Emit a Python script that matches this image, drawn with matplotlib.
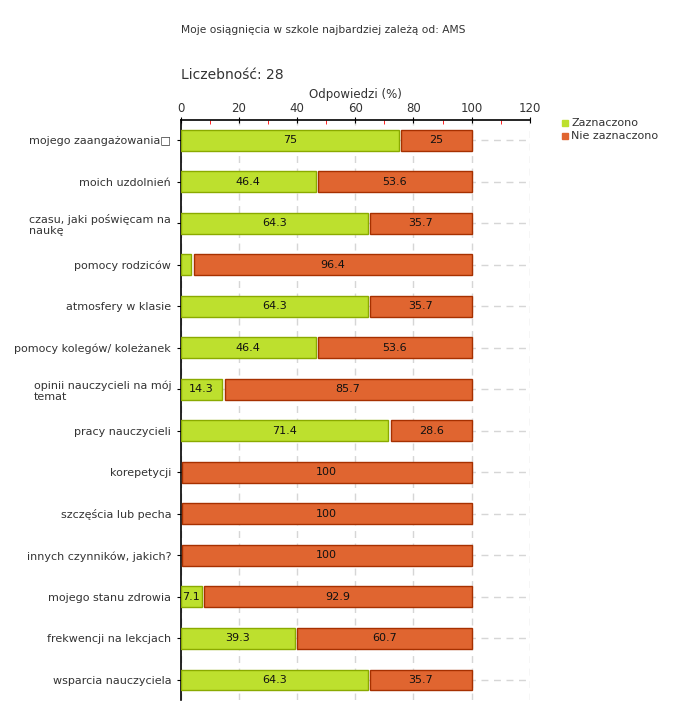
import numpy as np
import matplotlib.pyplot as plt
from matplotlib.ticker import MultipleLocator

categories = [
    "mojego zaangażowania\u25a1",
    "moich uzdolnień",
    "czasu, jaki poświęcam na\nnaukę",
    "pomocy rodziców",
    "atmosfery w klasie",
    "pomocy kolegów/ koleżanek",
    "opinii nauczycieli na mój\ntemat",
    "pracy nauczycieli",
    "korepetycji",
    "szczęścia lub pecha",
    "innych czynników, jakich?",
    "mojego stanu zdrowia",
    "frekwencji na lekcjach",
    "wsparcia nauczyciela",
]
zaznaczono = [75, 46.4, 64.3, 3.6, 64.3, 46.4, 14.3, 71.4, 0, 0, 0, 7.1, 39.3, 64.3]
nie_zaznaczono = [25, 53.6, 35.7, 96.4, 35.7, 53.6, 85.7, 28.6, 100, 100, 100, 92.9, 60.7, 35.7]

green = "#bde02e"
green_edge = "#8aaa00"
orange = "#e06530"
orange_edge = "#a63000"
txt = "#333333"
gap = 0.8

fig = plt.figure(figsize=(6.8, 7.2), dpi=100)
ax = fig.add_axes([0.266, 0.028, 0.513, 0.805])

y = np.arange(len(categories))
g = np.array(zaznaczono)
o = np.array(nie_zaznaczono)

# green segments (skip zero)
mask = g > 0
ax.barh(y[mask], g[mask], height=0.5, color=green, edgecolor=green_edge, lw=1, zorder=3)
o_left = np.where(g > 0, g + gap, 0.3)
o_width = np.where(g > 0, o - gap, o - 0.3)
ax.barh(y, o_width, left=o_left, height=0.5, color=orange, edgecolor=orange_edge, lw=1, zorder=3)

for i in range(len(categories)):
    if g[i] >= 5:
        ax.text(g[i] / 2, y[i], f"{g[i]:g}", ha="center", va="center", fontsize=8, color="#111111", zorder=4)
    ax.text(o_left[i] + o_width[i] / 2, y[i], f"{o[i]:g}", ha="center", va="center", fontsize=8, color="#111111", zorder=4)

ax.set_xlim(0, 120)
ax.set_ylim(len(categories) - 0.52, -0.48)
ax.xaxis.tick_top()
ax.xaxis.set_label_position("top")
ax.xaxis.set_major_locator(MultipleLocator(20))
ax.xaxis.set_minor_locator(MultipleLocator(10))
ax.tick_params(axis="x", which="major", length=5, direction="inout", colors="black", labelcolor=txt, labelsize=8.5, pad=1)
ax.tick_params(axis="x", which="minor", length=3, direction="in", colors="red")
ax.set_xlabel("Odpowiedzi (%)", fontsize=8.5, color=txt, labelpad=3)

ax.set_yticks(y)
ax.set_yticklabels(categories, fontsize=8, color=txt)
for lab in ax.get_yticklabels():
    lab.set_multialignment("left")
ax.tick_params(axis="y", length=3, colors="black", labelcolor=txt, pad=4)

for s in ["right", "bottom"]:
    ax.spines[s].set_visible(False)
ax.spines["top"].set_linewidth(1.2)
ax.spines["left"].set_linewidth(1.2)

ax.grid(True, axis="both", which="major", ls=(0, (5, 4)), color="#d6d6d6", lw=1, zorder=0)
ax.set_axisbelow(True)

fig.text(181 / 680, 1 - 30 / 720, "Moje osiągnięcia w szkole najbardziej zależą od: AMS",
         fontsize=7.7, color=txt, va="center")
fig.text(181 / 680, 1 - 75 / 720, "Liczebność: 28", fontsize=10, color=txt, va="center")

# legend
for k, (lab, col) in enumerate([("Zaznaczono", green), ("Nie zaznaczono", orange)]):
    yy = 1 - (123 + 13 * k) / 720
    fig.add_artist(plt.Rectangle((562 / 680, yy - 3 / 720), 6 / 680, 6 / 720,
                                 transform=fig.transFigure, color=col))
    fig.text(571 / 680, yy, lab, fontsize=8, color=txt, va="center")

fig.savefig("out.png", dpi=100)
